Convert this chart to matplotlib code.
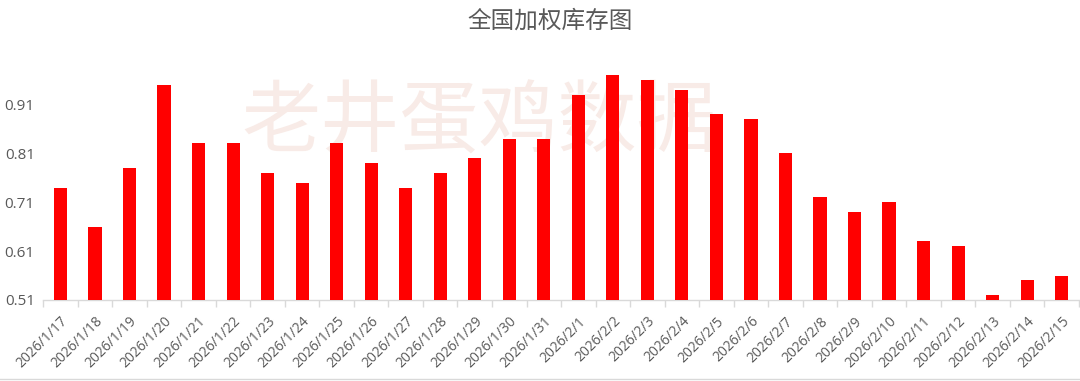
import matplotlib
matplotlib.use("Agg")
import matplotlib.pyplot as plt
import numpy as np

# 数据
dates = ["2026/1/17", "2026/1/18", "2026/1/19", "2026/1/20", "2026/1/21", "2026/1/22",
         "2026/1/23", "2026/1/24", "2026/1/25", "2026/1/26", "2026/1/27", "2026/1/28",
         "2026/1/29", "2026/1/30", "2026/1/31", "2026/2/1", "2026/2/2", "2026/2/3",
         "2026/2/4", "2026/2/5", "2026/2/6", "2026/2/7", "2026/2/8", "2026/2/9",
         "2026/2/10", "2026/2/11", "2026/2/12", "2026/2/13", "2026/2/14", "2026/2/15"]
stock = [0.74, 0.66, 0.78, 0.95, 0.83, 0.83,
         0.77, 0.75, 0.83, 0.79, 0.74, 0.77,
         0.80, 0.84, 0.84, 0.93, 0.97, 0.96,
         0.94, 0.89, 0.88, 0.81, 0.72, 0.69,
         0.71, 0.63, 0.62, 0.52, 0.55, 0.56]
yticks = [0.51, 0.61, 0.71, 0.81, 0.91]

plt.rcParams['font.family'] = ['Noto Sans CJK SC', 'DejaVu Sans']

fig = plt.figure(figsize=(10.8, 3.81), dpi=100)
ax = fig.add_axes([0.040, 0.2126, 0.959, 0.629])

x = np.arange(len(dates))
ax.bar(x, [v - yticks[0] for v in stock], bottom=yticks[0], width=0.38, color='#ff0000', zorder=3)

# 水印 (在柱子下面)
ax.text(0.443, 0.675, "老井蛋鸡数据", fontsize=57, color='#f8ebe7', ha='center', va='center',
        transform=fig.transFigure, zorder=1)

ax.set_xlim(-0.5, len(dates) - 0.5)
ax.set_ylim(0.51, 1.0)
ax.set_yticks(yticks)
ax.set_yticklabels(["%.2f" % t for t in yticks], color='#595959', fontsize=11, family='Open Sans')
ax.tick_params(axis='y', length=0, pad=6)

ax.set_xticks(x)
ax.set_xticklabels(dates, rotation=45, ha='right', rotation_mode='anchor', color='#595959',
                   fontsize=10, family='Open Sans')
ax.tick_params(axis='x', length=0, pad=10)
ax.set_xticks(np.arange(-0.5, len(dates), 1.0), minor=True)
ax.tick_params(axis='x', which='minor', length=5, color='#d9d9d9', width=1)

for s in ['top', 'right', 'left']:
    ax.spines[s].set_visible(False)
ax.spines['bottom'].set_color('#d9d9d9')
ax.spines['bottom'].set_linewidth(1)
ax.patch.set_alpha(0)

fig.text(0.509, 0.945, "全国加权库存图", fontsize=17, color='#595959', ha='center', va='center',
         fontweight='medium')
fig.add_artist(plt.Line2D([0, 1], [0.004, 0.004], color='#d9d9d9', lw=1))

fig.savefig("out.png", dpi=100)
